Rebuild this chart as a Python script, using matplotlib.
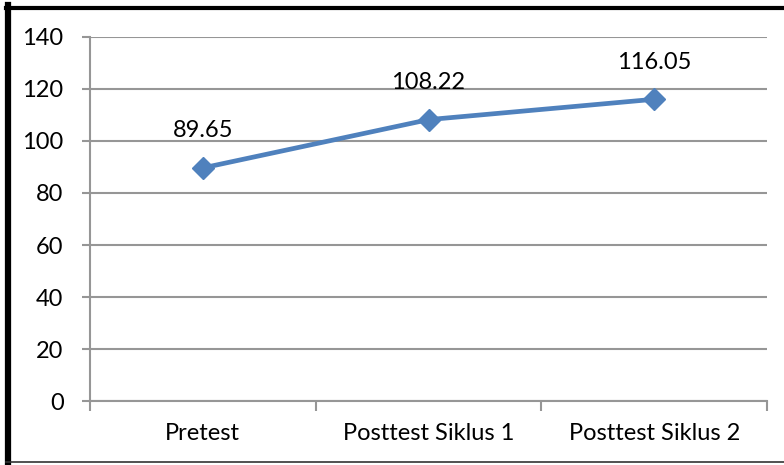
import matplotlib
matplotlib.use("Agg")
import matplotlib.pyplot as plt
from matplotlib.lines import Line2D

categories = ["Pretest", "Posttest Siklus 1", "Posttest Siklus 2"]
values = [89.65, 108.22, 116.05]
labels = ["89.65", "108.22", "116.05"]
yticks = [0, 20, 40, 60, 80, 100, 120, 140]

W, H = 784, 465
fig = plt.figure(figsize=(W/100, H/100), dpi=100)
plt.rcParams['font.family'] = ['Lato', 'DejaVu Sans']
FS = 17
ax = fig.add_axes([90/W, 1-401/H, (767-90)/W, (401-37)/H])

x = list(range(len(categories)))
ax.set_xlim(-0.5, len(categories)-0.5)
ax.set_ylim(0, 140)
ax.set_yticks(yticks)
ax.yaxis.grid(True, color="#969696", linewidth=1.5)
ax.set_axisbelow(True)
for s in ["top", "right"]:
    ax.spines[s].set_visible(False)
ax.spines["left"].set_color("#969696")
ax.spines["bottom"].set_color("#969696")
ax.spines["left"].set_linewidth(1.5)
ax.spines["bottom"].set_linewidth(1.5)
ax.tick_params(axis="y", length=6, width=1.5, color="#969696", labelsize=FS, pad=13)
ax.set_xticks([i - 0.5 for i in range(len(categories)+1)], minor=False)
ax.set_xticklabels([])
ax.tick_params(axis="x", which="major", length=7, width=1.5, color="#969696")
ax.set_xticks(x, minor=True)
ax.set_xticklabels(categories, minor=True)
ax.tick_params(axis="x", which="minor", length=0, labelsize=FS, pad=16)

ax.plot(x, values, color="#4F81BD", linewidth=3.4, marker="D", markersize=11, clip_on=False)
for xi, v, lab in zip(x, values, labels):
    ax.annotate(lab, (xi, v), xytext=(0, 37), textcoords="offset pixels",
                ha="center", va="center", fontsize=FS)

# figure border
fig.add_artist(Line2D([8/W, 8/W], [0, 1-5/H], transform=fig.transFigure, color="black", linewidth=4.5))
fig.add_artist(Line2D([6/W, 1], [1-8/H, 1-8/H], transform=fig.transFigure, color="black", linewidth=3))
fig.add_artist(Line2D([6/W, 1], [1-462/H, 1-462/H], transform=fig.transFigure, color="#333333", linewidth=1.2))

fig.savefig("out.png", dpi=100)
